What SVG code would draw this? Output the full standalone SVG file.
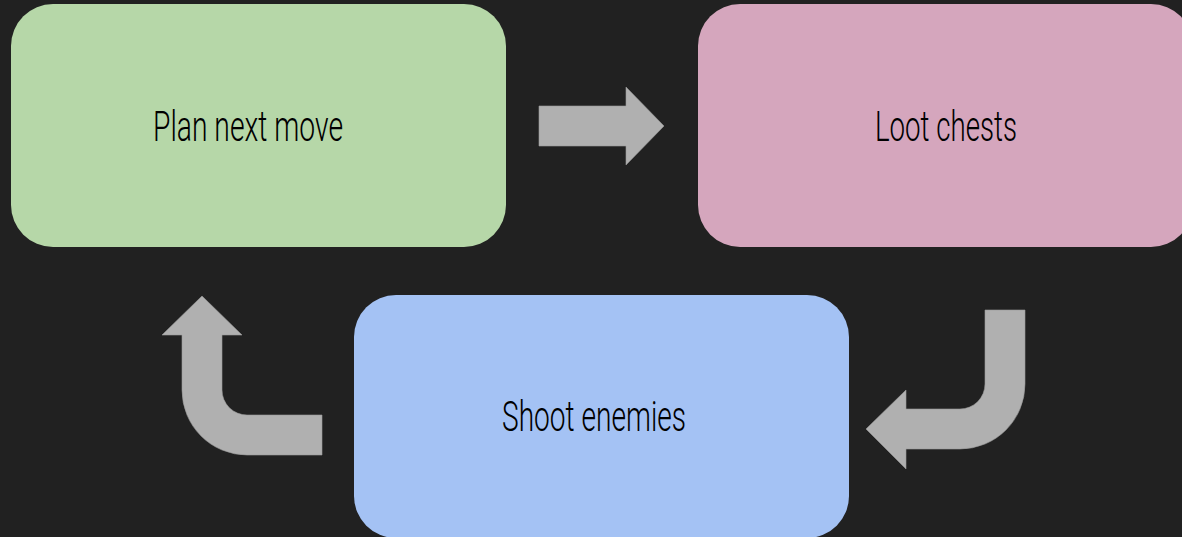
<svg xmlns="http://www.w3.org/2000/svg" width="1182" height="537" viewBox="0 0 1182 537">
<style>
.bg{fill:#212121}
.box{stroke:none}
.lbl{font-family:Roboto,"Liberation Sans",Arial,sans-serif;font-weight:300;font-size:43px;fill:#000}
.arr{fill:#b0b0b0;stroke:#9a9a9a;stroke-width:0.6}
</style>
<rect class="bg" x="0" y="0" width="1182" height="537"/>
<g id="connectors">
<path class="arr" d="M539,106 L626,106 L626,87 L664,126 L626,165 L626,146 L539,146 Z"/>
<path class="arr" d="M985,310 L1025,310 L1025,384 A65,65 0 0 1 960,449 L906,449 L906,469 L866,429 L906,390 L906,409 L960,409 A25,25 0 0 0 985,384 Z"/>
<path class="arr" d="M202,296 L242,335 L222,335 L222,390 A25,25 0 0 0 247,415 L322,415 L322,455 L247,455 A65,65 0 0 1 182,390 L182,335 L162,335 Z"/>
</g>
<g id="plan">
<rect class="box" x="11" y="4" width="495" height="243" rx="42" fill="#b6d7a8"/>
<text class="lbl" x="153" y="141" textLength="190" lengthAdjust="spacingAndGlyphs">Plan next move</text>
</g>
<g id="loot">
<rect class="box" x="698" y="4" width="495" height="243" rx="42" fill="#d5a6bd"/>
<text class="lbl" x="875" y="141" textLength="142" lengthAdjust="spacingAndGlyphs">Loot chests</text>
</g>
<g id="shoot">
<rect class="box" x="354" y="295" width="495" height="243" rx="42" fill="#a4c2f4"/>
<text class="lbl" x="502" y="431" textLength="184" lengthAdjust="spacingAndGlyphs">Shoot enemies</text>
</g>
</svg>
